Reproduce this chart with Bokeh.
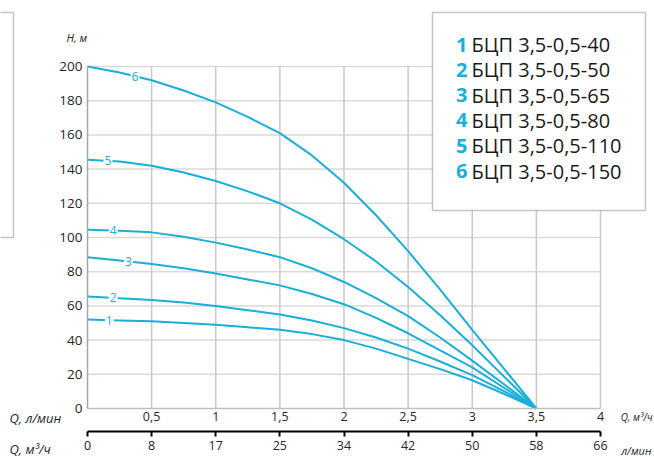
from bokeh.plotting import figure
from bokeh.models import LinearAxis, FixedTicker, Label, BoxAnnotation, Range1d
from bokeh.embed import file_html
from bokeh.resources import INLINE
import numpy as np

# ---- data ----
flow_m3h = [0, 0.25, 0.5, 0.75, 1, 1.25, 1.5, 1.75, 2, 2.25, 2.5, 2.75, 3, 3.25, 3.5]
head_40 = [52, 51.5, 51, 50, 49, 47.5, 46, 43.5, 40, 35, 29, 23, 16.5, 8.5, 0]
head_50 = [65.5, 64.5, 63.5, 62, 60, 57.5, 55, 51.5, 47, 41.5, 35, 27.5, 19.5, 10, 0]
head_65 = [88.5, 86.5, 84.5, 82, 79, 75.5, 72, 67, 61, 53, 44, 34, 24, 12, 0]
head_80 = [104.5, 104, 103, 100.5, 97, 93, 88.5, 82, 74, 64.5, 54, 41.5, 28, 14, 0]
head_110 = [145.5, 144.5, 142, 138, 133, 127, 120, 110.5, 99, 86, 71, 54.5, 37, 18.5, 0]
head_150 = [200, 196.5, 192, 186, 179, 170.5, 161, 148, 132, 113, 92, 69.5, 46, 23, 0]
curve_numbers = ["1", "2", "3", "4", "5", "6"]
model_names = ["БЦП 3,5-0,5-40", "БЦП 3,5-0,5-50", "БЦП 3,5-0,5-65",
               "БЦП 3,5-0,5-80", "БЦП 3,5-0,5-110", "БЦП 3,5-0,5-150"]
label_flow = [0.17, 0.2, 0.32, 0.2, 0.16, 0.37]
q_ticks = [0.5, 1, 1.5, 2, 2.5, 3, 3.5, 4]
q_tick_labels = ["0,5", "1", "1,5", "2", "2,5", "3", "3,5", "4"]
lmin_ticks = [0, 0.5, 1, 1.5, 2, 2.5, 3, 3.5, 4]
lmin_tick_labels = ["0", "8", "17", "25", "34", "42", "50", "58", "66"]
h_ticks = [0, 20, 40, 60, 80, 100, 120, 140, 160, 180, 200]

heads = [head_40, head_50, head_65, head_80, head_110, head_150]

FONT = "Open Sans"
BLUE = "#19afd9"
TXT = "#262626"

W, H = 654, 457
X0, Y0 = 87, 408           # canvas position of (0, 0)
PX_X, PX_Y = 128.25, 1.71  # pixels per unit

p = figure(width=W, height=H, output_backend="svg", toolbar_location=None,
           x_range=Range1d(-X0 / PX_X, (W - X0) / PX_X),
           y_range=Range1d(-(H - Y0) / PX_Y, Y0 / PX_Y),
           min_border=0)
p.outline_line_color = None
p.background_fill_color = "white"
p.xgrid.visible = False
p.ygrid.visible = False

# grid lines, bounded to the data area
gy = h_ticks[1:]
p.segment(x0=[0] * len(gy), y0=gy, x1=[4] * len(gy), y1=gy,
          line_color="#d9d9d9", line_width=1.5)
p.segment(x0=q_ticks, y0=[0] * len(q_ticks), x1=q_ticks, y1=[200] * len(q_ticks),
          line_color="#c9c9c9", line_width=1.5)

# y axis
ya = p.yaxis[0]
ya.fixed_location = 0
ya.bounds = (0, 200)
ya.ticker = FixedTicker(ticks=h_ticks)
ya.major_tick_out = 0
ya.major_tick_in = 0
ya.minor_tick_out = 0
ya.minor_tick_in = 0
ya.axis_line_color = "#a6a6a6"
ya.axis_line_width = 1.5
ya.major_label_standoff = 5
ya.major_label_text_font = FONT
ya.major_label_text_font_size = "13.5px"
ya.major_label_text_color = TXT

# first x axis (m3/h)
xa = p.xaxis[0]
xa.fixed_location = 0
xa.bounds = (0, 4)
xa.ticker = FixedTicker(ticks=q_ticks)
xa.major_label_overrides = {t: s for t, s in zip(q_ticks, q_tick_labels)}
xa.major_tick_out = 0
xa.major_tick_in = 0
xa.minor_tick_out = 0
xa.minor_tick_in = 0
xa.axis_line_color = "#bfbfbf"
xa.axis_line_width = 1.5
xa.major_label_standoff = 3
xa.major_label_text_font = FONT
xa.major_label_text_font_size = "12.5px"
xa.major_label_text_color = TXT

# second x axis (l/min)
xb = LinearAxis(ticker=FixedTicker(ticks=lmin_ticks), fixed_location=-13.5, bounds=(0, 4))
xb.major_label_overrides = {t: s for t, s in zip(lmin_ticks, lmin_tick_labels)}
xb.major_tick_out = 5
xb.major_tick_in = 0
xb.minor_tick_out = 0
xb.minor_tick_in = 0
xb.axis_line_color = "black"
xb.axis_line_width = 2
xb.major_tick_line_color = "black"
xb.major_tick_line_width = 2
xb.major_label_standoff = 4
xb.major_label_text_font = FONT
xb.major_label_text_font_size = "12.5px"
xb.major_label_text_color = TXT
p.add_layout(xb, "below")

# curves
for h in heads:
    p.line(flow_m3h, h, line_color=BLUE, line_width=2)

# curve number labels on the lines
for num, q, h in zip(curve_numbers, label_flow, heads):
    hv = float(np.interp(q, flow_m3h, h))
    p.add_layout(Label(x=q, y=hv, text=num, text_align="center", text_baseline="middle",
                       text_color=BLUE, text_font=FONT, text_font_size="12px",
                       background_fill_color="white", padding=1))

# axis captions
def cap(x, y, text, size, align="left"):
    p.add_layout(Label(x=x, y=y, x_units="canvas", y_units="canvas", text=text,
                       text_align=align, text_baseline="middle", text_color=TXT,
                       text_font=FONT, text_font_size=size, text_font_style="italic"))

cap(66, 37, "H, м", "11px")
cap(9, 417, "Q, л/мин", "13px")
cap(9, 448, "Q, м³/ч", "13px")
cap(652, 416, "Q, м³/ч", "10px", "right")
cap(651, 450, "л/мин", "11px", "right")

# legend box (top right)
p.add_layout(BoxAnnotation(left=432, right=645, top=12, bottom=210,
                           left_units="canvas", right_units="canvas",
                           top_units="canvas", bottom_units="canvas",
                           fill_color="white", fill_alpha=1,
                           line_color="#404040", line_width=1.5))
# partial box on the left edge
p.add_layout(BoxAnnotation(left=-20, right=13, top=12, bottom=237,
                           left_units="canvas", right_units="canvas",
                           top_units="canvas", bottom_units="canvas",
                           fill_alpha=0, line_color="#404040", line_width=1.5))

for i, (num, name) in enumerate(zip(curve_numbers, model_names)):
    yy = 44 + 25.3 * i
    p.add_layout(Label(x=467, y=yy, x_units="canvas", y_units="canvas", text=num,
                       text_align="right", text_baseline="middle", text_color=BLUE,
                       text_font=FONT, text_font_size="20px", text_font_style="bold"))
    p.add_layout(Label(x=471, y=yy, x_units="canvas", y_units="canvas", text=name,
                       text_align="left", text_baseline="middle", text_color="#1a1a1a",
                       text_font=FONT, text_font_size="20px"))

open("out.html", "w").write(file_html(p, INLINE))
